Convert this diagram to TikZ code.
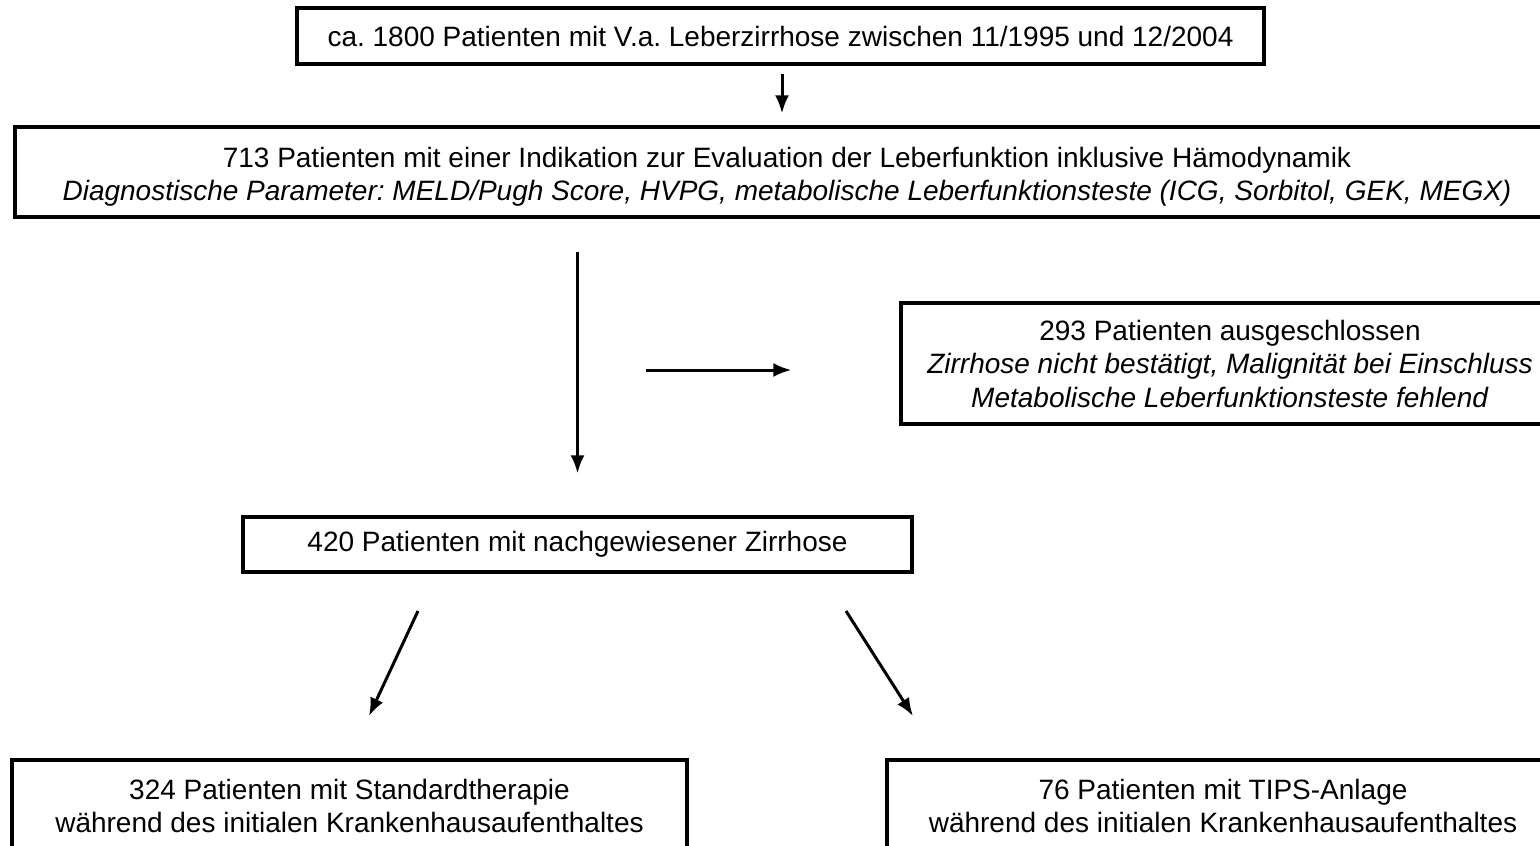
\documentclass[tikz,border=0pt]{standalone}
\usepackage{fontspec}
\setmainfont{Liberation Sans}
\usetikzlibrary{arrows.meta}
\begin{document}
\frenchspacing
\begin{tikzpicture}[x=1pt,y=-1pt,
  box/.style={draw=black,line width=3.2pt,inner sep=0pt,align=center,
    font=\frenchspacing\fontsize{28}{33.5}\selectfont},
  arr/.style={line width=3pt,-{Latex[length=18pt,width=14pt]}}]
\useasboundingbox (0,0) rectangle (1540,846);
\clip (0,0) rectangle (1540,846);
\fill[white] (0,0) rectangle (1540,846);
\node[box,minimum width=967pt,minimum height=56pt] (b1) at (780.5,36)
  {ca. 1800 Patienten mit V.a. Leberzirrhose zwischen 11/1995 und 12/2004};
\node[box,minimum width=1544pt,minimum height=90pt] (b2) at (787,172)
  {\rule{0pt}{30pt}713 Patienten mit einer Indikation zur Evaluation der Leberfunktion inklusive Hämodynamik\\
   \textit{Diagnostische Parameter: MELD/Pugh Score, HVPG, metabolische Leberfunktionsteste (ICG, Sorbitol, GEK, MEGX)}};
\node[box,minimum width=658pt,minimum height=121pt] (b3) at (1230,363.5)
  {293 Patienten ausgeschlossen\\
   \textit{Zirrhose nicht bestätigt, Malignität bei Einschluss}\\
   \textit{Metabolische Leberfunktionsteste fehlend}};
\node[box,minimum width=669pt,minimum height=55pt] (b4) at (577.5,544.5)
  {420 Patienten mit nachgewiesener Zirrhose};
\node[box,minimum width=675pt,minimum height=92pt] (b5) at (349.5,806)
  {324 Patienten mit Standardtherapie\\während des initialen Krankenhausaufenthaltes};
\node[box,minimum width=672pt,minimum height=92pt] (b6) at (1223,806)
  {76 Patienten mit TIPS-Anlage\\während des initialen Krankenhausaufenthaltes};
\coordinate (a3s) at (646,370);
\coordinate (a4s) at (418,611);
\coordinate (a4e) at (369,716);
\coordinate (a5s) at (846,611);
\coordinate (a5e) at (913,716);
\draw[arr,shorten <=8pt,shorten >=12pt] (b1.south -| 782,0) -- (b2.north -| 782,0);
\draw[arr,shorten <=33pt,shorten >=42pt] (b4.north |- b2.south) -- (b4.north);
\draw[arr,shorten >=108pt] (a3s) -- (a3s -| b3.west);
\draw[arr] (a4s) -- (a4e);
\draw[arr] (a5s) -- (a5e);
\end{tikzpicture}
\end{document}
